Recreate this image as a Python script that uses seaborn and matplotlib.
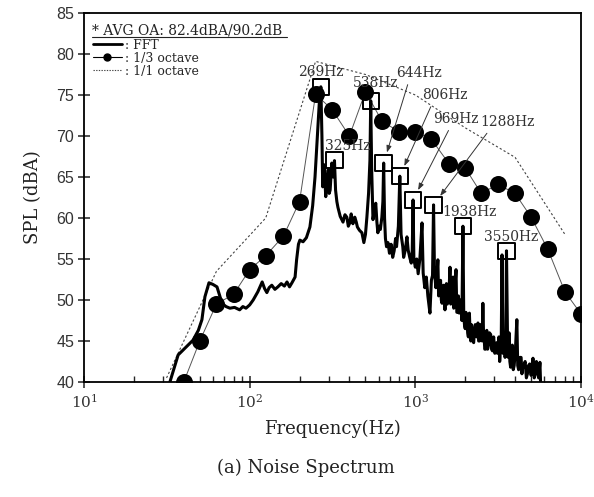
import matplotlib
matplotlib.use("Agg")
import matplotlib.pyplot as plt
import seaborn as sns
import numpy as np
import pandas as pd
from matplotlib.lines import Line2D
from matplotlib.ticker import LogLocator

# ---------------- data ----------------
fft_freq = [33, 37, 41, 45.5, 49, 51.5, 53.7, 56.8, 60, 63.5, 66, 68, 72, 76, 81, 87, 91, 95, 100, 105,
            112, 119, 123, 127, 131, 136, 142, 148, 155, 162, 168, 174, 180, 188, 192, 197, 201, 210, 220, 231,
            240, 248, 258, 264, 269, 273, 276, 281, 288, 293, 298, 302, 306, 313, 319, 325, 330, 336, 341, 352,
            366, 376, 386, 394, 402, 410, 420, 431, 440, 447, 460, 476, 489, 500, 510, 522, 532, 538, 545, 555,
            566, 577, 586, 594, 605, 615, 628, 637, 644, 652, 660, 670, 684, 698, 714, 730, 745, 760, 770, 790,
            806, 820, 840, 850, 870, 890, 905, 925, 945, 958, 969, 980, 1000, 1020, 1040, 1065, 1097, 1115, 1140, 1165,
            1190, 1225, 1250, 1270, 1288, 1305, 1330, 1350, 1368, 1382, 1395, 1420, 1435, 1450, 1465, 1480, 1510, 1525, 1540, 1560,
            1580, 1600, 1619, 1635, 1650, 1670, 1690, 1705, 1720, 1740, 1760, 1780, 1800, 1820, 1840, 1860, 1880, 1910, 1938, 1960,
            1980, 2000, 2020, 2047, 2070, 2090, 2105, 2120, 2140, 2160, 2180, 2200, 2225, 2250, 2275, 2300, 2340, 2388, 2410, 2440,
            2470, 2500, 2530, 2557, 2580, 2600, 2625, 2650, 2675, 2700, 2730, 2760, 2800, 2850, 2885, 2920, 2970, 3020, 3060, 3100,
            3130, 3160, 3195, 3230, 3265, 3300, 3337, 3380, 3415, 3450, 3480, 3510, 3550, 3600, 3640, 3680, 3720, 3760, 3800, 3850,
            3900, 3950, 4020, 4100, 4150, 4200, 4280, 4350, 4400, 4450, 4520, 4600, 4680, 4750, 4820, 4900, 5000, 5130, 5220, 5300,
            5380, 5450, 5550, 5650, 5700]
fft_db = [40.0, 43.3, 44.2, 45.1, 46.3, 47.6, 50.4, 52.1, 51.9, 51.6, 50.5, 49.6, 49.2, 49.0, 49.1, 48.8, 49.2, 49.0, 49.4, 50.0,
          51.0, 52.2, 51.4, 50.9, 51.5, 51.8, 51.3, 51.6, 52.0, 51.7, 52.2, 51.6, 52.1, 52.8, 54.9, 56.8, 57.3, 57.1, 57.6, 58.9,
          61.5, 65.0, 71.1, 74.5, 76.0, 70.0, 63.8, 66.5, 62.6, 64.8, 65.9, 63.0, 63.4, 66.7, 65.0, 67.0, 63.4, 62.0, 61.3, 60.2,
          59.5, 60.4, 60.1, 59.0, 59.4, 60.5, 59.3, 60.1, 59.5, 58.9, 58.5, 58.2, 57.0, 58.0, 60.1, 63.0, 67.0, 74.3, 66.0, 59.8,
          61.0, 61.8, 59.5, 58.2, 59.0, 58.6, 60.1, 62.0, 66.7, 60.0, 57.5, 56.5, 57.0, 55.7, 56.8, 55.2, 56.0, 57.5, 56.5, 59.0,
          65.1, 58.0, 56.5, 55.2, 56.1, 57.7, 56.1, 55.2, 54.5, 56.0, 62.2, 55.0, 54.0, 55.0, 53.2, 55.0, 59.4, 53.3, 51.5, 52.8,
          50.5, 48.4, 52.4, 53.0, 61.6, 53.5, 51.5, 53.0, 54.9, 50.5, 50.8, 52.4, 50.0, 49.6, 51.5, 51.8, 48.8, 51.0, 52.0, 49.5,
          50.2, 51.5, 54.0, 49.5, 50.0, 51.8, 52.8, 49.0, 49.5, 52.0, 53.7, 48.5, 48.5, 50.5, 48.4, 49.0, 50.0, 47.5, 59.0, 48.0,
          47.0, 46.5, 48.5, 47.6, 46.0, 45.5, 47.5, 48.4, 46.0, 45.0, 47.0, 46.3, 45.0, 44.8, 46.5, 47.0, 45.5, 47.2, 45.0, 45.0,
          47.0, 46.5, 45.0, 49.6, 46.0, 45.5, 44.0, 44.0, 46.0, 46.3, 44.0, 44.5, 46.0, 45.8, 44.0, 43.8, 45.5, 43.5, 44.5, 44.8,
          43.5, 44.3, 45.5, 42.5, 44.0, 45.0, 55.5, 43.5, 45.0, 46.0, 43.0, 44.0, 56.0, 45.5, 43.0, 46.0, 42.5, 41.8, 44.0, 44.5,
          41.5, 42.0, 44.0, 47.6, 42.0, 41.5, 43.0, 43.0, 41.0, 41.8, 42.0, 42.5, 40.5, 41.0, 42.0, 42.2, 40.8, 42.9, 40.5, 41.0,
          42.5, 41.5, 40.5, 42.4, 40.0]

third_freq = [40, 50, 63, 80, 100, 125, 160, 200, 250, 315, 400, 500, 630, 800, 1000, 1250, 1600,
              2000, 2500, 3150, 4000, 5000, 6300, 8000, 10000]
third_db = [40.0, 45.0, 49.5, 50.7, 53.7, 55.4, 57.8, 62.0, 75.1, 73.2, 70.0, 75.4, 71.8, 70.5, 70.5, 69.6, 66.6,
            66.1, 63.0, 64.1, 63.0, 60.1, 56.2, 51.0, 48.3]

oct_freq = [31.5, 63, 125, 250, 500, 1000, 2000, 4000, 8000]
oct_db = [40.5, 53.5, 60.0, 79.1, 77.5, 75.0, 71.0, 67.4, 58.0]

peak_freq = [269, 325, 538, 644, 806, 969, 1288, 1938, 3550]
peak_db = [76.0, 67.1, 74.3, 66.7, 65.1, 62.2, 61.6, 59.0, 56.0]
peak_labels = ["269Hz", "325Hz", "538Hz", "644Hz", "806Hz", "969Hz", "1288Hz", "1938Hz", "3550Hz"]

# ---------------- style ----------------
sns.set_theme(style="ticks")
plt.rcParams['font.family'] = ['DejaVu Serif']
plt.rcParams['mathtext.fontset'] = 'dejavuserif'
plt.rcParams['axes.linewidth'] = 1.3

fig, ax = plt.subplots(figsize=(5.94, 4.97), dpi=100)
fig.subplots_adjust(left=84/594, right=581/594, top=1-13/497, bottom=1-382/497)

fft_df = pd.DataFrame({"f": fft_freq, "db": fft_db})
third_df = pd.DataFrame({"f": third_freq, "db": third_db})
oct_df = pd.DataFrame({"f": oct_freq, "db": oct_db})
peak_df = pd.DataFrame({"f": peak_freq, "db": peak_db})

sns.lineplot(data=oct_df, x="f", y="db", ax=ax, color="#444444", lw=0.8,
             linestyle=(0, (2, 2)), estimator=None, zorder=2)
sns.lineplot(data=third_df, x="f", y="db", ax=ax, color="#555555", lw=0.7,
             estimator=None, zorder=2)
sns.scatterplot(data=third_df, x="f", y="db", ax=ax, color="black", s=150,
                edgecolor="black", linewidth=0, zorder=3)
sns.lineplot(data=fft_df, x="f", y="db", ax=ax, color="black", lw=2.2,
             estimator=None, zorder=4)
sns.scatterplot(data=peak_df, x="f", y="db", ax=ax, marker="s", s=140,
                facecolor="none", edgecolor="black", linewidth=1.4, zorder=5)

ax.set_xscale("log")
ax.set_xlim(10, 1e4)
ax.set_ylim(40, 85)
ax.set_yticks(np.arange(40, 86, 5))
ax.xaxis.set_major_locator(LogLocator(base=10, numticks=10))
ax.xaxis.set_minor_locator(LogLocator(base=10, subs=np.arange(2, 10), numticks=20))

ax.tick_params(axis="x", which="major", direction="inout", length=8, width=1.2,
               labelsize=11, pad=4, colors="#333333")
ax.tick_params(axis="x", which="minor", direction="in", length=4, width=1.0)
ax.tick_params(axis="y", which="major", direction="inout", length=8, width=1.2,
               labelsize=11.5, pad=3, colors="#333333")
for lab in ax.get_yticklabels():
    lab.set_family("Liberation Sans")
for sp in ax.spines.values():
    sp.set_visible(True)
    sp.set_color("black")

ax.set_xlabel("Frequency(Hz)", fontsize=13, color="#222222", labelpad=6)
ax.set_ylabel("SPL (dBA)", fontsize=13, color="#222222", labelpad=10)

# annotations
offsets = [(0, 15), (13, 14), (5, 18), (35, 90), (45, 81), (43, 81), (74, 83), (7, 14), (5, 14)]
arrows = [False, False, False, True, True, True, True, False, False]
relx = [0.5, 0.5, 0.5, 0.3, 0.25, 0.4, 0.2, 0.5, 0.5]
for f, d, lab, off, arr, rx in zip(peak_freq, peak_db, peak_labels, offsets, arrows, relx):
    if arr:
        ax.annotate(lab, xy=(f, d), xytext=off, textcoords="offset pixels",
                    ha="center", va="center", fontsize=10, color="#333333", zorder=6,
                    arrowprops=dict(arrowstyle="-|>,head_length=0.4,head_width=0.15",
                                    color="#333333", lw=0.7, shrinkA=1, shrinkB=8,
                                    relpos=(rx, 0.1)))
    else:
        ax.annotate(lab, xy=(f, d), xytext=off, textcoords="offset pixels",
                    ha="center", va="center", fontsize=10, color="#333333", zorder=6)

# legend
ax.text(0.016, 0.953, "* AVG OA: 82.4dBA/90.2dB", transform=ax.transAxes,
        fontsize=10, color="#222222", ha="left", va="center")
ax.add_line(Line2D([0.016, 0.408], [0.934, 0.934], transform=ax.transAxes,
                   color="#222222", lw=0.8))
handles = [Line2D([], [], color="black", lw=2),
           Line2D([], [], color="black", lw=0.8, marker="o", markersize=5),
           Line2D([], [], color="#444444", lw=0.8, linestyle=(0, (1.2, 1.2)))]
ax.legend(handles, [": FFT", ": 1/3 octave", ": 1/1 octave"], loc="upper left",
          bbox_to_anchor=(0.018, 0.93), frameon=False, fontsize=9,
          handlelength=2.3, handletextpad=0.3, labelspacing=0.0, borderpad=0,
          borderaxespad=0)

fig.text(306/594, 1-468/497, "(a) Noise Spectrum", fontsize=13, ha="center",
         va="center", color="#222222")

fig.savefig("out.png", dpi=100)
